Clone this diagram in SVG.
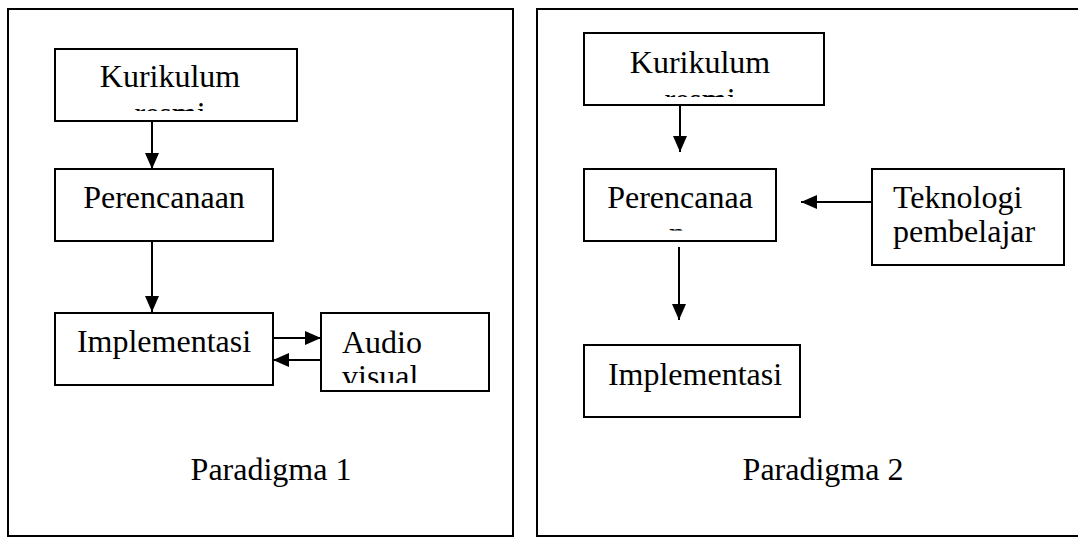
<svg xmlns="http://www.w3.org/2000/svg" width="1078" height="537" viewBox="0 0 1078 537">
<style>
.frame{fill:none;stroke:#000;stroke-width:2}
.box{fill:#fff;stroke:#000;stroke-width:2}
.t{font-family:"Liberation Serif","Times New Roman",serif;font-size:32px;fill:#000}
.c{text-anchor:middle}
.conn{stroke:#000;stroke-width:2;fill:none;marker-end:url(#ah)}
</style>
<defs>
<marker id="ah" markerUnits="userSpaceOnUse" markerWidth="16" markerHeight="14" refX="16" refY="7" orient="auto">
<path d="M0,0 L16,7 L0,14 z" fill="#000"/>
</marker>
<clipPath id="clipK1"><rect x="56" y="50" width="240" height="61"/></clipPath>
<clipPath id="clipAV"><rect x="322" y="314" width="166" height="69"/></clipPath>
<clipPath id="clipK2"><rect x="585" y="34" width="238" height="63"/></clipPath>
<clipPath id="clipP2"><rect x="585" y="170" width="190" height="60.5"/></clipPath>
</defs>
<rect width="1078" height="537" fill="#fff"/>
<g id="panel1">
<rect class="frame" x="8" y="9" width="505" height="527"/>
<text class="t c" x="271" y="480">Paradigma 1</text>
</g>
<g id="panel2">
<path class="frame" d="M1080,9 H537 V536 H1080"/>
<text class="t c" x="823" y="480">Paradigma 2</text>
</g>
<g id="p1-kurikulum">
<rect class="box" x="55" y="49" width="242" height="72"/>
<g clip-path="url(#clipK1)">
<text class="t c" x="170" y="87">Kurikulum</text>
<text class="t c" x="170" y="124">resmi</text>
</g>
</g>
<g id="p1-perencanaan">
<rect class="box" x="55" y="169" width="218" height="72"/>
<text class="t c" x="164" y="208">Perencanaan</text>
</g>
<g id="p1-implementasi">
<rect class="box" x="55" y="313" width="218" height="72"/>
<text class="t c" x="164" y="352">Implementasi</text>
</g>
<g id="p1-audiovisual">
<rect class="box" x="321" y="313" width="168" height="78"/>
<g clip-path="url(#clipAV)">
<text class="t" x="342" y="353">Audio</text>
<text class="t" x="342" y="387">visual</text>
</g>
</g>
<g id="p2-kurikulum">
<rect class="box" x="584" y="33" width="240" height="72"/>
<g clip-path="url(#clipK2)">
<text class="t c" x="700" y="73">Kurikulum</text>
<text class="t c" x="700" y="110">resmi</text>
</g>
</g>
<g id="p2-perencanaan">
<rect class="box" x="584" y="169" width="192" height="72"/>
<g clip-path="url(#clipP2)">
<text class="t c" x="680" y="208">Perencanaa</text>
<text class="t c" x="677" y="244">n</text>
</g>
</g>
<g id="p2-teknologi">
<rect class="box" x="872" y="169" width="192" height="96"/>
<text class="t" x="893" y="208">Teknologi</text>
<text class="t" x="893" y="242">pembelajar</text>
</g>
<g id="p2-implementasi">
<rect class="box" x="584" y="345" width="216" height="72"/>
<text class="t c" x="695" y="385">Implementasi</text>
</g>
<g id="connectors">
<line class="conn" x1="152" y1="121" x2="152" y2="169"/>
<line class="conn" x1="152" y1="241" x2="152" y2="312"/>
<line class="conn" x1="273" y1="338" x2="321" y2="338"/>
<line class="conn" x1="321" y1="360" x2="273" y2="360"/>
<line class="conn" x1="680" y1="105" x2="680" y2="152"/>
<line class="conn" x1="872" y1="202" x2="801" y2="202"/>
<line class="conn" x1="679" y1="247" x2="679" y2="320"/>
</g>
</svg>
